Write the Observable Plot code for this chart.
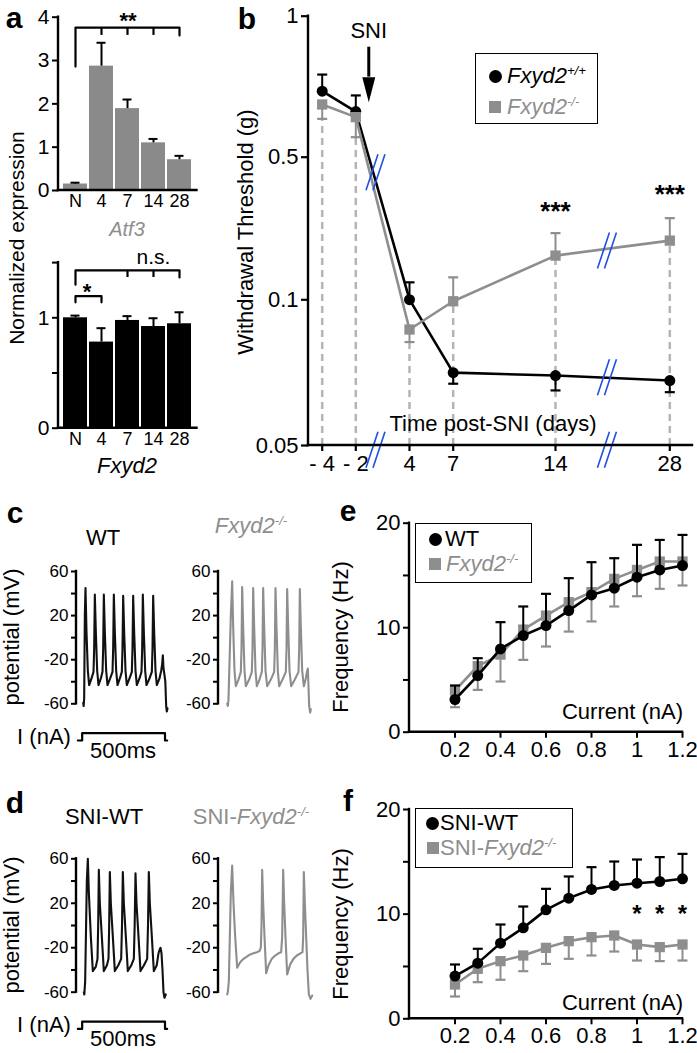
<!DOCTYPE html>
<html><head><meta charset="utf-8">
<script src="https://cdn.jsdelivr.net/npm/d3@7"></script>
<script src="https://cdn.jsdelivr.net/npm/@observablehq/plot@0.6"></script>
<style>
html,body{margin:0;padding:0;background:#fff;}
#fig{position:relative;width:697px;height:1053px;overflow:hidden;font-family:"Liberation Sans",Arial,Helvetica,sans-serif;color:#000;}
#fig svg{position:absolute;left:0;top:0;}
.lbl{position:absolute;white-space:nowrap;line-height:1;}
sup{font-size:0.6em;vertical-align:0.62em;line-height:0;}
</style></head><body><div id="fig"></div>
<script>
// ---------------- DATA ----------------
// panel a
const barCats = ["N","4","7","14","28"];
const atf3Mean = [0.15, 2.87, 1.89, 1.10, 0.71];
const atf3Err  = [0.18, 3.41, 2.10, 1.19, 0.80];
const fxyd2Mean = [1.00, 0.78, 0.976, 0.921, 0.946];
const fxyd2Err  = [1.02, 0.906, 1.015, 0.996, 1.05];
const atf3BracketCats = ["N","N","28","28"];
const atf3BracketVals = [2.86, 3.76, 3.76, 3.58];
const atf3TickCats = ["4","7","14"];
const atf3TickVals = [3.58, 3.76];
const fxBracketCats = ["N","N","28","28"];
const fxBracketVals = [1.30, 1.43, 1.43, 1.365];
const fxTickCats = ["7","14"];
const fxTickVals = [1.365, 1.43];
const fxSmallCats = ["N","N","4","4"];
const fxSmallVals = [1.14, 1.196, 1.196, 1.14];
const fxNsCat = ["14"], fxNsVal = [1.549];
const atf3Ticks = [0,1,2,3,4];
const fxyd2Ticks = [0,0.5,1,1.5];
const fxyd2TickLabels = [0,1];

// panel b
const days = [-4,-2,4,7,14,28];
const dayLabels = ["- 4","- 2","4","7","14","28"];
const wtThr  = [0.734, 0.662, 0.1003, 0.075, 0.074, 0.0723];
const wtErr  = [0.793, 0.719, 0.149, 0.0712, 0.0689, 0.0683];
const koThr  = [0.687, 0.642, 0.0898, 0.0995, 0.224, 0.266];
const koErr  = [0.636, 0.571, 0.0855, 0.163, 0.287, 0.329];
const thrTicks = [1, 0.5, 0.1, 0.05];
const breakDays = [0.2, 20.3, 20.3, 0.2, 20.3];
const breakVals = [0.458, 0.238, 0.0734, 0.0485, 0.0485];
const sniDay = [-0.55];
const sniArrowVals = [0.89, 0.784, 0.695]; // shaft top, head base, tip
const sniTextVal = [0.946];
const sigDays = [14, 28];
const sigVals = [0.346, 0.394];

// panels c, d : membrane potential traces [time ms, mV]
const traceWT = [[6,-59],[9,-62],[12,-55],[16,20],[20,45],[26,5],[34,-30],[42,-43],[56,-37],[68,-31],[72,-10],[76,39],[82,5],[90,-30],[98,-43],[112,-37],[122,-31],[126,-10],[130,39],[136,5],[144,-30],[152,-43],[168,-37],[182,-31],[186,-10],[190,39],[196,5],[204,-30],[212,-43],[226,-37],[238,-31],[242,-10],[246,38],[252,5],[260,-30],[268,-43],[284,-37],[298,-31],[302,-10],[306,38],[312,5],[320,-30],[328,-43],[344,-37],[356,-31],[360,-10],[364,39],[370,5],[378,-30],[386,-43],[404,-37],[418,-31],[422,-10],[426,38],[432,5],[440,-30],[448,-43],[464,-37],[474,-30],[480,-24],[484,-16],[488,-28],[494,-34],[499,-40],[504,-62],[508,-67],[512,-64]];
const traceKO = [[18,-60],[22,-62],[26,-56],[40,20],[48,51],[54,10],[62,-30],[70,-44],[86,-38],[100,-31],[104,-10],[108,46],[114,10],[122,-30],[130,-44],[150,-38],[166,-31],[170,-10],[174,45],[180,10],[188,-30],[196,-44],[212,-38],[226,-31],[230,-10],[234,45],[240,10],[248,-30],[258,-44],[280,-38],[300,-31],[304,-10],[308,45],[314,10],[322,-30],[330,-44],[350,-38],[370,-31],[374,-10],[378,44],[384,10],[392,-30],[402,-44],[424,-38],[446,-31],[450,-10],[454,44],[460,10],[468,-30],[478,-44],[490,-37],[498,-30],[502,-28],[505,-40],[510,-62],[516,-68],[520,-65]];
const traceSniWT = [[10,-60],[13,-62],[18,-50],[28,40],[34,60],[40,30],[52,-10],[64,-41],[82,-37],[92,-30],[96,0],[100,50],[106,20],[118,-10],[130,-41],[148,-36],[158,-30],[162,0],[166,48],[172,20],[184,-10],[196,-41],[216,-36],[234,-30],[239,0],[244,48],[250,20],[262,-10],[274,-41],[294,-36],[310,-30],[315,0],[320,47],[326,20],[338,-10],[350,-41],[370,-36],[390,-30],[395,0],[400,48],[406,20],[418,-10],[430,-41],[447,-36],[458,-25],[464,-22],[470,-20],[476,-25],[482,-40],[488,-60],[494,-65],[502,-62]];
const traceSniKO = [[18,-62],[22,-60],[28,-50],[40,30],[48,54],[56,20],[66,-10],[78,-38],[96,-33],[116,-30],[136,-28],[156,-26],[176,-25],[196,-24],[212,-23],[220,-20],[224,0],[228,50],[234,20],[242,-10],[252,-43],[268,-35],[286,-30],[306,-27],[326,-25],[342,-24],[348,-10],[354,50],[360,20],[368,-10],[378,-44],[396,-35],[416,-30],[436,-27],[458,-25],[470,-24],[474,-10],[478,48],[484,20],[492,-10],[500,-40],[508,-62],[518,-66],[528,-63]];
const mvTicks = [-60,-40,-20,0,20,40,60];
const mvTickLabels = [-60,-20,20,60];
const stepT = [-26,0,0,497,497,510];
const stepI = [0,0,1,1,0,0];

// panels e, f
const currents = [0.2,0.3,0.4,0.5,0.6,0.7,0.8,0.9,1.0,1.1,1.2];
const eWT    = [3.13,5.42,7.97,9.25,10.2,11.64,13.14,13.78,14.83,15.53,15.95];
const eWTerr = [4.47,7.08,10.53,12.03,13.24,14.74,16.27,16.65,17.93,18.4,18.88];
const eKO    = [3.99,6.32,7.43,9.82,11.16,12.44,13.4,14.67,15.53,16.33,16.33];
const eKOerr = [2.39,4.05,4.85,6.92,8.2,9.63,10.6,12.03,13.01,13.72,14.04];
const fWT    = [4.08,5.32,7.23,8.69,10.41,11.53,12.36,12.74,12.96,13.12,13.38];
const fWTerr = [5.19,6.69,9.01,10.73,12.42,13.6,14.49,15.03,15.22,15.45,15.76];
const fKO    = [3.28,4.78,5.51,6.05,6.78,7.42,7.8,7.96,7.1,6.85,7.1];
const fKOerr = [2.13,3.5,3.73,4.55,5.25,5.73,6.05,6.43,5.57,5.51,5.57];
const fSigCurrents = [1.0,1.1,1.2];
const fSigVal = 9.94;
const currentTicks = [0.2,0.4,0.6,0.8,1,1.2];
const freqTicks = [0,5,10,15,20];

// ---------------- DRAWING ----------------
const fig = document.getElementById("fig");
const W = 697, H = 1053;
const FONT = '"Liberation Sans", Arial, Helvetica, sans-serif';
const GRAY = "#8e8e8e";
const NS = "http://www.w3.org/2000/svg";
function mk(fs, opts) {
  fig.appendChild(Plot.plot(Object.assign({width: W, height: H,
    style: `background:transparent;overflow:visible;font-family:${FONT};font-size:${fs}px;`}, opts)));
}
function axisLines(sides, sw = 2.4) {
  return (index, scales, values, d) => {
    const g = document.createElementNS(NS, "g");
    const x0 = d.marginLeft, x1 = d.width - d.marginRight, y0 = d.marginTop, y1 = d.height - d.marginBottom;
    const seg = (a, b, c, e) => {
      const l = document.createElementNS(NS, "line");
      l.setAttribute("x1", a); l.setAttribute("y1", b); l.setAttribute("x2", c); l.setAttribute("y2", e);
      l.setAttribute("stroke", "#000"); l.setAttribute("stroke-width", sw); l.setAttribute("stroke-linecap", "square");
      g.appendChild(l);
    };
    if (sides.includes("left")) seg(x0, y0, x0, y1);
    if (sides.includes("bottom")) seg(x0, y1, x1, y1);
    return g;
  };
}
const capSym = {draw(ctx) { ctx.moveTo(-5, 0); ctx.lineTo(5, 0); }};
const slashSym = {draw(ctx) { ctx.moveTo(-9.5, 18); ctx.lineTo(2.5, -18); ctx.moveTo(-2.5, 18); ctx.lineTo(9.5, -18); }};
const headSym = {draw(ctx) { ctx.moveTo(-6.5, -25); ctx.lineTo(6.5, -25); ctx.lineTo(0, 0); ctx.closePath(); }};

// ---- panel a, Atf3 ----
const atf = barCats.map((c, i) => ({cat: c, m: atf3Mean[i], e: atf3Err[i]}));
mk(20, {
  marginLeft: 58, marginRight: W - 196.5, marginTop: 16.7, marginBottom: H - 190,
  x: {type: "band", domain: barCats, paddingInner: 0.07, paddingOuter: 0.12},
  y: {domain: [0, 4]},
  marks: [
    Plot.barY(atf, {x: "cat", y: "m", fill: "#8a8a8a"}),
    Plot.ruleX(atf, {x: "cat", y1: "m", y2: "e", stroke: "#000", strokeWidth: 2}),
    Plot.tickY(atf, {x: "cat", y: "e", stroke: "#000", strokeWidth: 2, insetLeft: 7.5, insetRight: 7.5}),
    Plot.line(atf3BracketCats.map((c, i) => ({c, v: atf3BracketVals[i]})), {x: "c", y: "v", stroke: "#000", strokeWidth: 2.2}),
    Plot.ruleX(atf3TickCats, {x: d => d, y1: atf3TickVals[0], y2: atf3TickVals[1], stroke: "#000", strokeWidth: 2.2}),
    Plot.axisY({ticks: atf3Ticks, tickFormat: d => String(d), tickSize: 6, tickPadding: 3, strokeWidth: 2, fontSize: 21, label: null}),
    Plot.axisX({tickSize: 0, tickPadding: 4, fontSize: 18, label: null}),
    axisLines(["left", "bottom"])
  ]
});

// ---- panel a, Fxyd2 ----
const fx = barCats.map((c, i) => ({cat: c, m: fxyd2Mean[i], e: fxyd2Err[i]}));
mk(20, {
  marginLeft: 58, marginRight: W - 196.5, marginTop: 262.1, marginBottom: H - 427.7,
  x: {type: "band", domain: barCats, paddingInner: 0.07, paddingOuter: 0.12},
  y: {domain: [0, 1.5]},
  marks: [
    Plot.barY(fx, {x: "cat", y: "m", fill: "#000"}),
    Plot.ruleX(fx, {x: "cat", y1: "m", y2: "e", stroke: "#000", strokeWidth: 2}),
    Plot.tickY(fx, {x: "cat", y: "e", stroke: "#000", strokeWidth: 2, insetLeft: 7.5, insetRight: 7.5}),
    Plot.line(fxBracketCats.map((c, i) => ({c, v: fxBracketVals[i]})), {x: "c", y: "v", stroke: "#000", strokeWidth: 2.2}),
    Plot.ruleX(fxTickCats, {x: d => d, y1: fxTickVals[0], y2: fxTickVals[1], stroke: "#000", strokeWidth: 2.2}),
    Plot.line(fxSmallCats.map((c, i) => ({c, v: fxSmallVals[i]})), {x: "c", y: "v", stroke: "#000", strokeWidth: 2.2}),
    Plot.text(fxNsCat, {x: d => d, y: fxNsVal, text: () => "n.s.", fontSize: 21}),
    Plot.axisY({ticks: fxyd2Ticks, tickFormat: d => fxyd2TickLabels.includes(d) ? String(d) : "", tickSize: 6, tickPadding: 3, strokeWidth: 2, fontSize: 21, label: null}),
    Plot.axisX({tickSize: 0, tickPadding: 4, fontSize: 18, label: null}),
    axisLines(["left", "bottom"])
  ]
});

// ---- panel b ----
const bRows = days.map((d, i) => ({day: d, wt: wtThr[i], wtE: wtErr[i], ko: koThr[i], koE: koErr[i]}));
const brk = breakDays.map((d, i) => ({day: d, v: breakVals[i]}));
mk(22, {
  marginLeft: 308, marginRight: W - 692, marginTop: 15.7, marginBottom: H - 445,
  x: {type: "linear", domain: [-4.85, -4, -2, 4, 7, 14, 28, 30], range: [308, 321.7, 355.3, 409, 452.7, 555, 669.3, 692]},
  y: {type: "linear", domain: [0.05, 0.1, 0.5, 1], range: [445, 299.3, 156.7, 15.7]},
  marks: [
    Plot.ruleX(bRows, {x: "day", y1: () => 0.05, y2: d => Math.min(d.ko, d.koE), stroke: "#b4b4b4", strokeWidth: 2.5, strokeDasharray: "7,5"}),
    Plot.line(bRows, {x: "day", y: "wt", stroke: "#000", strokeWidth: 2.6}),
    Plot.line(bRows, {x: "day", y: "ko", stroke: GRAY, strokeWidth: 2.6}),
    Plot.ruleX(bRows, {x: "day", y1: "wt", y2: "wtE", stroke: "#000", strokeWidth: 2}),
    Plot.dot(bRows, {x: "day", y: "wtE", symbol: capSym, stroke: "#000", strokeWidth: 2.2, fill: "none"}),
    Plot.ruleX(bRows, {x: "day", y1: "ko", y2: "koE", stroke: GRAY, strokeWidth: 2}),
    Plot.dot(bRows, {x: "day", y: "koE", symbol: capSym, stroke: GRAY, strokeWidth: 2.2, fill: "none"}),
    Plot.dot(bRows, {x: "day", y: "wt", r: 5.5, fill: "#000"}),
    Plot.dot(bRows, {x: "day", y: "ko", symbol: "square", r: 5.8, fill: GRAY}),
    Plot.dot(brk, {x: "day", y: "v", symbol: slashSym, stroke: "#1f50e0", strokeWidth: 1.6, fill: "none"}),
    Plot.ruleX(sniDay, {x: d => d, y1: () => sniArrowVals[0], y2: () => sniArrowVals[1], stroke: "#000", strokeWidth: 3}),
    Plot.dot(sniDay, {x: d => d, y: () => sniArrowVals[2], symbol: headSym, fill: "#000"}),
    Plot.text(sniDay, {x: d => d, y: () => sniTextVal[0], text: () => "SNI", fontSize: 22}),
    Plot.text(sigDays, {x: d => d, y: (d, i) => sigVals[i], text: () => "***", fontSize: 26, fontWeight: "bold"}),
    Plot.axisY({ticks: thrTicks, tickFormat: d => String(d), tickSize: 7, tickPadding: 3, strokeWidth: 2.2, fontSize: 22, label: null}),
    Plot.axisX({ticks: days, tickFormat: d => dayLabels[days.indexOf(d)], tickSize: 6, tickPadding: 4, strokeWidth: 2.2, fontSize: 22, label: null}),
    axisLines(["left", "bottom"])
  ]
});

// ---- panels c, d traces ----
const MSPX = 0.16667;
function tracePlot(trace, left, top, bottom, color) {
  mk(17, {
    marginLeft: left, marginRight: W - left - 574 * MSPX, marginTop: top, marginBottom: H - bottom,
    x: {domain: [-34, 540], axis: null},
    y: {domain: [-60, 60]},
    marks: [
      Plot.line(trace, {x: d => d[0], y: d => d[1], stroke: color, strokeWidth: 2.1, strokeLinejoin: "round"}),
      Plot.axisY({ticks: mvTicks, tickFormat: d => mvTickLabels.includes(d) ? String(d) : "", tickSize: 5, tickPadding: 3, strokeWidth: 2, fontSize: 17, label: null}),
      axisLines(["left"])
    ]
  });
}
function stepPlot(left, top, bottom) {
  mk(17, {
    marginLeft: left, marginRight: W - left - 574 * MSPX, marginTop: top, marginBottom: H - bottom,
    x: {domain: [-34, 540], axis: null},
    y: {domain: [0, 1], axis: null},
    marks: [Plot.line(stepT.map((t, i) => [t, stepI[i]]), {x: d => d[0], y: d => d[1], stroke: "#000", strokeWidth: 2.2})]
  });
}
tracePlot(traceWT, 76, 571, 703.3, "#111");
tracePlot(traceKO, 218, 571, 703.3, GRAY);
stepPlot(76, 732.7, 740);
tracePlot(traceSniWT, 76, 858.3, 991.7, "#111");
tracePlot(traceSniKO, 218, 858.3, 991.7, GRAY);
stepPlot(76, 1021.1, 1028.4);

// ---- panels e, f ----
function freqPlot(top, bottom, wt, wtE, ko, koE, sig) {
  const rows = currents.map((c, i) => ({c, wt: wt[i], wtE: wtE[i], ko: ko[i], koE: koE[i]}));
  mk(22, {
    marginLeft: 409, marginRight: W - 682, marginTop: top, marginBottom: H - bottom,
    x: {domain: [0, 1.2]},
    y: {domain: [0, 20]},
    marks: [
      Plot.line(rows, {x: "c", y: "ko", stroke: GRAY, strokeWidth: 2.6}),
      Plot.ruleX(rows, {x: "c", y1: "ko", y2: "koE", stroke: GRAY, strokeWidth: 2}),
      Plot.dot(rows, {x: "c", y: "koE", symbol: capSym, stroke: GRAY, strokeWidth: 2.2, fill: "none"}),
      Plot.dot(rows, {x: "c", y: "ko", symbol: "square", r: 5.8, fill: GRAY}),
      Plot.line(rows, {x: "c", y: "wt", stroke: "#000", strokeWidth: 2.6}),
      Plot.ruleX(rows, {x: "c", y1: "wt", y2: "wtE", stroke: "#000", strokeWidth: 2}),
      Plot.dot(rows, {x: "c", y: "wtE", symbol: capSym, stroke: "#000", strokeWidth: 2.2, fill: "none"}),
      Plot.dot(rows, {x: "c", y: "wt", r: 5.5, fill: "#000"}),
      sig ? Plot.text(fSigCurrents, {x: d => d, y: () => fSigVal, text: () => "*", fontSize: 24, fontWeight: "bold"}) : null,
      Plot.axisY({ticks: freqTicks, tickFormat: d => d % 10 === 0 ? String(d) : "", tickSize: 6, tickPadding: 3, strokeWidth: 2, fontSize: 22, label: null}),
      Plot.axisX({ticks: currentTicks, tickFormat: d => String(d), tickSize: 6, tickPadding: 3, strokeWidth: 2, fontSize: 22, label: null}),
      axisLines(["left", "bottom"])
    ]
  });
}
freqPlot(522.7, 731.7, eWT, eWTerr, eKO, eKOerr, false);
freqPlot(809, 1018.3, fWT, fWTerr, fKO, fKOerr, true);

// ---------------- TEXT / LEGENDS ----------------
function lbl(html, x, y, o = {}) {
  const d = document.createElement("div");
  d.className = "lbl";
  d.innerHTML = html;
  d.style.left = x + "px"; d.style.top = y + "px";
  d.style.fontSize = (o.size || 22) + "px";
  if (o.bold) d.style.fontWeight = "bold";
  if (o.italic) d.style.fontStyle = "italic";
  if (o.color) d.style.color = o.color;
  const tx = o.anchor === "start" ? "0" : o.anchor === "end" ? "-100%" : "-50%";
  d.style.transform = `translate(${tx},-50%)` + (o.rotate ? ` rotate(${o.rotate}deg)` : "");
  fig.appendChild(d);
}
function box(x, y, w, h) {
  const d = document.createElement("div");
  Object.assign(d.style, {position: "absolute", left: x + "px", top: y + "px", width: w + "px", height: h + "px", border: "1.6px solid #000", boxSizing: "border-box"});
  fig.appendChild(d);
}
function marker(kind, cx, cy, color) {
  const d = document.createElement("div");
  const s = kind === "circle" ? 13 : 12;
  Object.assign(d.style, {position: "absolute", left: (cx - s / 2) + "px", top: (cy - s / 2) + "px", width: s + "px", height: s + "px", background: color, borderRadius: kind === "circle" ? "50%" : "0"});
  fig.appendChild(d);
}
// panel letters
lbl("a", 14, 18, {size: 30, bold: true});
lbl("b", 247, 19, {size: 30, bold: true});
lbl("c", 15, 513, {size: 30, bold: true});
lbl("d", 15, 803, {size: 30, bold: true});
lbl("e", 348, 511, {size: 30, bold: true});
lbl("f", 348, 801, {size: 30, bold: true});
// panel a
lbl("Normalized expression", 16, 238, {size: 21, rotate: -90});
lbl("Atf3", 127, 229, {size: 20, italic: true, color: GRAY});
lbl("Fxyd2", 127, 466, {size: 22, italic: true});
lbl("**", 128, 20.5, {size: 22, bold: true});
lbl("*", 87, 291.5, {size: 22, bold: true});
// panel b
lbl("Withdrawal Threshold (g)", 246, 232, {size: 22, rotate: -90});
lbl("Time post-SNI (days)", 493, 424, {size: 22});
box(475, 53.3, 123.3, 71);
marker("circle", 495, 76, "#000");
lbl("Fxyd2<sup>+/+</sup>", 507, 76, {size: 22, italic: true, anchor: "start"});
marker("square", 495, 106.7, GRAY);
lbl("Fxyd2<sup>-/-</sup>", 507, 106.7, {size: 22, italic: true, anchor: "start", color: GRAY});
// panel c
lbl("WT", 103, 538, {size: 22});
lbl("Fxyd2<sup>-/-</sup>", 251, 526, {size: 22, italic: true, color: GRAY});
lbl("potential (mV)", 12, 637, {size: 22, rotate: -90});
lbl("I (nA)", 44, 737, {size: 22});
lbl("500ms", 123, 751, {size: 22});
// panel d
lbl("SNI-WT", 104, 817, {size: 22});
lbl("SNI-<i>Fxyd2</i><sup><i>-/-</i></sup>", 251, 817, {size: 22, color: GRAY});
lbl("potential (mV)", 12, 925, {size: 22, rotate: -90});
lbl("I (nA)", 44, 1025, {size: 22});
lbl("500ms", 123, 1039, {size: 22});
// panel e
lbl("Frequency (Hz)", 341, 637, {size: 22, rotate: -90});
lbl("Current (nA)", 683, 711.7, {size: 22, anchor: "end"});
box(415, 522.7, 116.7, 60);
marker("circle", 435, 539.3, "#000");
lbl("WT", 445, 539.3, {size: 22, anchor: "start"});
marker("square", 435, 564, GRAY);
lbl("Fxyd2<sup>-/-</sup>", 446, 564, {size: 22, italic: true, anchor: "start", color: GRAY});
// panel f
lbl("Frequency (Hz)", 341, 924, {size: 22, rotate: -90});
lbl("Current (nA)", 683, 1003.3, {size: 22, anchor: "end"});
box(415, 808.3, 157.7, 60);
marker("circle", 432.7, 823.3, "#000");
lbl("SNI-WT", 440, 823.3, {size: 22, anchor: "start"});
marker("square", 432.7, 848.3, GRAY);
lbl("SNI-<i>Fxyd2</i><sup><i>-/-</i></sup>", 440, 848.3, {size: 22, anchor: "start", color: GRAY});
</script></body></html>
